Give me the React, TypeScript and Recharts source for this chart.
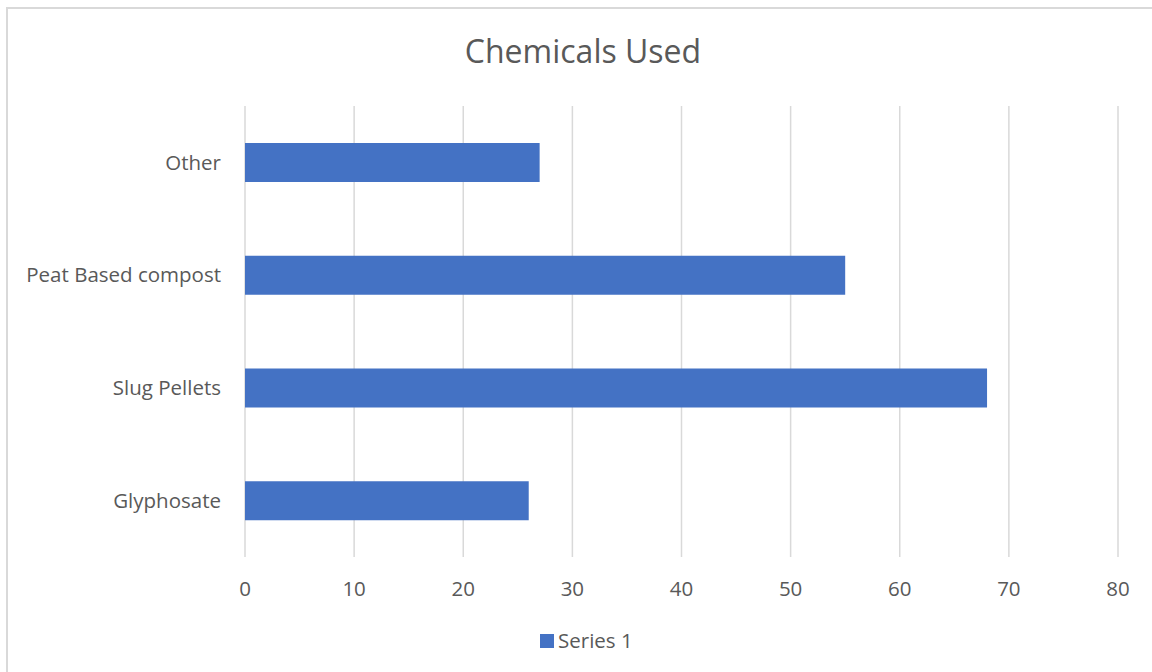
import React from "react";
import {
  BarChart,
  Bar,
  XAxis,
  YAxis,
  CartesianGrid,
} from "recharts";

const categories = ["Glyphosate", "Slug Pellets", "Peat Based compost", "Other"];
const series1 = [26, 68, 55, 27];
const xTicks = [0, 10, 20, 30, 40, 50, 60, 70, 80];
const seriesName = "Series 1";
const chartTitle = "Chemicals Used";

const data = categories.map((name, i) => ({ name, value: series1[i] }));

const FONT = "'Open Sans', sans-serif";
const TEXT = "#595959";
const BLUE = "#4472C4";

export default function App() {
  return (
    <div
      style={{
        position: "absolute",
        left: 0,
        top: 0,
        width: 1152,
        height: 672,
        overflow: "hidden",
        background: "#fff",
        fontFamily: FONT,
      }}
    >
      {/* chart frame, only top and left edges are inside the window */}
      <div
        style={{
          position: "absolute",
          left: 6,
          top: 7,
          width: 1200,
          height: 700,
          borderTop: "2px solid #d9d9d9",
          borderLeft: "2px solid #d9d9d9",
        }}
      />
      <BarChart
        width={1152}
        height={672}
        data={data}
        layout="vertical"
        margin={{ top: 106, right: 34, left: 0, bottom: 75 }}
        style={{ position: "absolute", left: 0, top: 0 }}
      >
        <CartesianGrid
          horizontal={false}
          stroke="#d9d9d9"
          strokeWidth={1.5}
        />
        <XAxis
          type="number"
          domain={[0, 80]}
          ticks={xTicks}
          interval={0}
          axisLine={false}
          tickLine={false}
          tickMargin={18}
          height={40}
          tick={{ fill: TEXT, fontSize: 20.5, fontFamily: FONT }}
        />
        <YAxis
          type="category"
          dataKey="name"
          reversed
          width={245}
          axisLine={false}
          tickLine={false}
          tickMargin={18}
          interval={0}
          tick={{ fill: TEXT, fontSize: 20.5, fontFamily: FONT }}
        />
        <Bar
          dataKey="value"
          name={seriesName}
          fill={BLUE}
          barSize={39}
          isAnimationActive={false}
        />
      </BarChart>
      <svg
        width={1152}
        height={672}
        style={{ position: "absolute", left: 0, top: 0, pointerEvents: "none" }}
      >
        <text
          x={583}
          y={63}
          textAnchor="middle"
          fill={TEXT}
          fontSize={32}
          fontFamily={FONT}
        >
          {chartTitle}
        </text>
        <rect x={540} y={634} width={14} height={14} fill={BLUE} />
        <text x={558} y={648} fill={TEXT} fontSize={20.5} fontFamily={FONT}>
          {seriesName}
        </text>
      </svg>
    </div>
  );
}
